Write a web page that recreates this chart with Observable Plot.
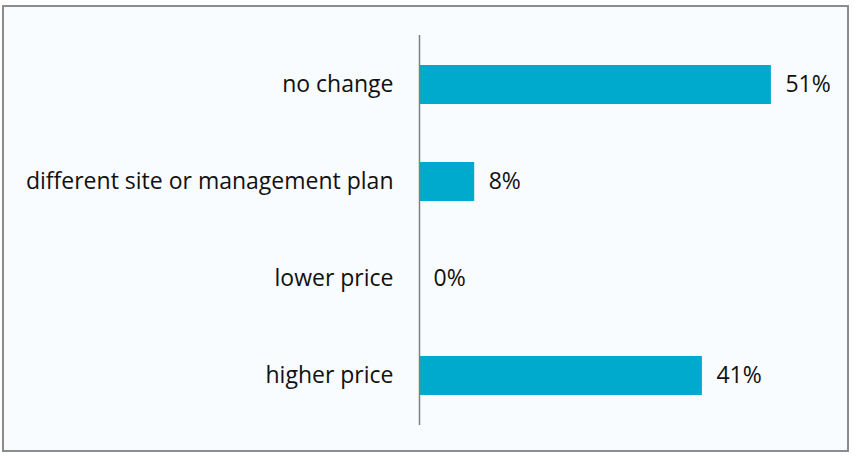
<!DOCTYPE html>
<html>
<head>
<meta charset="utf-8">
<script src="https://cdn.jsdelivr.net/npm/d3@7"></script>
<script src="https://cdn.jsdelivr.net/npm/@observablehq/plot@0.6"></script>
<style>
  html, body { margin: 0; padding: 0; background: #ffffff; }
  #wrap { position: relative; width: 856px; height: 456px; }
  #frame { position: absolute; left: 2px; top: 5px; width: 847px; height: 447px; border: 2px solid #8c8c8c; background: #f8fcfe; box-sizing: border-box; }
  #chart { position: absolute; left: 0; top: 0; }
  #chart svg text { font-size: 23px; }
</style>
</head>
<body>
<div id="wrap"><div id="frame"></div><div id="chart"></div></div>
<script>
const categories = ["no change", "different site or management plan", "lower price", "higher price"];
const values = [51, 8, 0, 41];
const valueLabels = ["51%", "8%", "0%", "41%"];

const data = categories.map((c, i) => ({category: c, value: values[i], label: valueLabels[i]}));

const chart = Plot.plot({
  width: 856,
  height: 456,
  marginLeft: 419,
  marginRight: 23,
  marginTop: 35,
  marginBottom: 31,
  style: {background: "transparent", fontFamily: "'Open Sans', sans-serif", fontSize: "23px", color: "#111111"},
  x: {domain: [0, 60], axis: null},
  y: {domain: categories, paddingInner: 0.6, paddingOuter: 0.3, label: null},
  marks: [
    Plot.barX(data, {x: "value", y: "category", fill: "#00aacd"}),
    Plot.ruleX([0], {stroke: "#808080", strokeWidth: 1.5}),
    Plot.axisY({tickSize: 0, tickPadding: 26, fontSize: 23, label: null}),
    Plot.text(data, {x: "value", y: "category", text: "label", textAnchor: "start", dx: 14, fontSize: 23, fill: "#111111"})
  ]
});
document.getElementById("chart").appendChild(chart);
</script>
</body>
</html>
